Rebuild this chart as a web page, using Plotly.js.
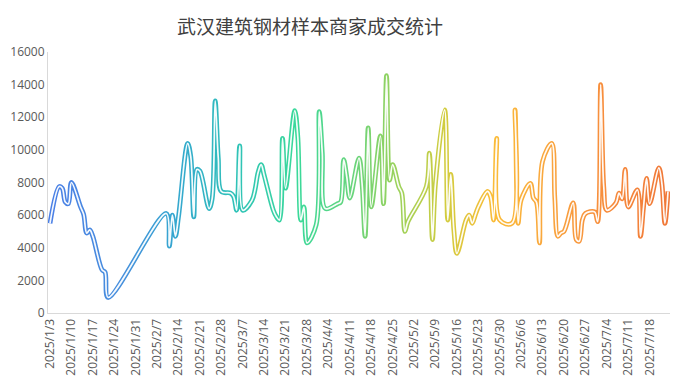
<!DOCTYPE html>
<html>
<head>
<meta charset="utf-8">
<script src="https://cdn.plot.ly/plotly-3.0.1.min.js"></script>
<style>
html,body{margin:0;padding:0;background:#fff;}
#chart{width:692px;height:387px;}
</style>
</head>
<body>
<div id="chart"></div>
<script>
// ---- data ----
var chartTitle = '武汉建筑钢材样本商家成交统计';

var dates = [
 '2025-01-03','2025-01-06','2025-01-07','2025-01-08','2025-01-09','2025-01-10',
 '2025-01-13','2025-01-14','2025-01-15','2025-01-16','2025-01-17',
 '2025-01-20','2025-01-21','2025-01-22',
 '2025-02-10','2025-02-11','2025-02-12','2025-02-13','2025-02-14',
 '2025-02-17','2025-02-18','2025-02-19','2025-02-20','2025-02-21',
 '2025-02-24','2025-02-25','2025-02-26','2025-02-27','2025-02-28',
 '2025-03-03','2025-03-04','2025-03-05','2025-03-06','2025-03-07',
 '2025-03-10','2025-03-11','2025-03-12','2025-03-13','2025-03-14',
 '2025-03-17','2025-03-18','2025-03-19','2025-03-20','2025-03-21',
 '2025-03-24','2025-03-25','2025-03-26','2025-03-27','2025-03-28',
 '2025-03-31','2025-04-01','2025-04-02','2025-04-03',
 '2025-04-07','2025-04-08','2025-04-09','2025-04-10','2025-04-11',
 '2025-04-14','2025-04-15','2025-04-16','2025-04-17','2025-04-18',
 '2025-04-21','2025-04-22','2025-04-23','2025-04-24','2025-04-25',
 '2025-04-27','2025-04-28','2025-04-29','2025-04-30',
 '2025-05-06','2025-05-07','2025-05-08','2025-05-09',
 '2025-05-12','2025-05-13','2025-05-14','2025-05-15','2025-05-16',
 '2025-05-19','2025-05-20','2025-05-21','2025-05-22','2025-05-23',
 '2025-05-26','2025-05-27','2025-05-28','2025-05-29','2025-05-30',
 '2025-06-03','2025-06-04','2025-06-05','2025-06-06',
 '2025-06-09','2025-06-10','2025-06-11','2025-06-12','2025-06-13',
 '2025-06-16','2025-06-17','2025-06-18','2025-06-19','2025-06-20',
 '2025-06-23','2025-06-24','2025-06-25','2025-06-26','2025-06-27',
 '2025-06-30','2025-07-01','2025-07-02','2025-07-03','2025-07-04',
 '2025-07-07','2025-07-08','2025-07-09','2025-07-10','2025-07-11',
 '2025-07-14','2025-07-15','2025-07-16','2025-07-17','2025-07-18',
 '2025-07-21','2025-07-22','2025-07-23','2025-07-24'
];

var volumes = [
 5500,7750,7650,6800,6700,8000,
 6500,6050,4900,5100,4700,
 2650,2500,950,
 6100,4100,6000,4700,5900,
 10400,9600,5900,8800,8700,
 6400,7000,13000,9500,7450,
 7350,7150,6300,10250,6300,
 6900,7550,8600,9100,8450,
 6300,5900,5700,10700,7650,
 12400,10800,5700,6500,4300,
 5400,12350,9800,6400,
 6700,6800,9400,8350,7050,
 9500,7950,4700,11350,6500,
 10850,6700,14550,8150,9100,
 7750,7350,5000,5600,
 7750,9800,4500,7950,
 12450,5700,8500,5100,3650,
 5700,6000,5500,6000,6500,
 7450,7150,5700,10700,5700,
 5500,12450,5500,6950,
 7950,7050,6800,4300,9300,
 10400,7050,4700,4900,5000,
 6750,4500,4400,5700,6100,
 6200,5600,14000,7750,6300,
 6750,7350,7000,8800,6500,
 7550,4700,6500,8250,6700,
 8900,7950,5500,7450
];

var tickDates = [
 '2025-01-03','2025-01-10','2025-01-17','2025-01-24','2025-01-31',
 '2025-02-07','2025-02-14','2025-02-21','2025-02-28','2025-03-07',
 '2025-03-14','2025-03-21','2025-03-28','2025-04-04','2025-04-11',
 '2025-04-18','2025-04-25','2025-05-02','2025-05-09','2025-05-16',
 '2025-05-23','2025-05-30','2025-06-06','2025-06-13','2025-06-20',
 '2025-06-27','2025-07-04','2025-07-11','2025-07-18'
];
var tickLabels = tickDates.map(function(d){
  var p = d.split('-');
  return p[0] + '/' + parseInt(p[1],10) + '/' + parseInt(p[2],10);
});

var gradientStops = [
 [0.00,'#4a7fe6'],[0.12,'#4690dc'],[0.20,'#35a6d0'],[0.30,'#2fc2b8'],
 [0.40,'#3ad99a'],[0.50,'#6ed478'],[0.56,'#9ad25c'],[0.64,'#d2cc3e'],
 [0.72,'#fbbb38'],[0.82,'#f9a23e'],[0.90,'#f78c3c'],[1.00,'#f07838']
];

// ---- chart ----
var tickFont = {family:'"Open Sans", "Noto Sans CJK SC", sans-serif', size:12, color:'#595959'};

var outer = {
  x: dates, y: volumes, type:'scatter', mode:'lines',
  line:{color:'#35b0c8', width:4.8, shape:'spline', smoothing:1},
  hoverinfo:'skip', showlegend:false
};
var inner = {
  x: dates, y: volumes, type:'scatter', mode:'lines',
  line:{color:'rgba(255,255,255,0.95)', width:1.7, shape:'spline', smoothing:1},
  hoverinfo:'skip', showlegend:false
};

var layout = {
  width:692, height:387,
  margin:{l:48, r:22, t:52, b:74, pad:0},
  paper_bgcolor:'#ffffff', plot_bgcolor:'#ffffff',
  title:{
    text: chartTitle,
    font:{family:'"Noto Sans CJK SC", sans-serif', size:19, color:'#404040'},
    x:0.448, xanchor:'center', xref:'container',
    y:0.93, yanchor:'middle', yref:'container'
  },
  xaxis:{
    type:'date',
    range:['2025-01-02 08:18','2025-07-24 15:42'],
    tickmode:'array', tickvals:tickDates, ticktext:tickLabels,
    tickangle:-90, tickfont:tickFont,
    showgrid:false, zeroline:false,
    showline:true, linecolor:'#d9d9d9', linewidth:1,
    ticks:'', automargin:false
  },
  yaxis:{
    range:[0,16000], dtick:2000, tick0:0,
    tickfont:tickFont, tickformat:'d',
    showgrid:false, zeroline:false,
    showline:true, linecolor:'#d9d9d9', linewidth:1,
    ticks:'', automargin:false
  },
  hovermode:false
};

Plotly.newPlot('chart', [outer, inner], layout, {displayModeBar:false, staticPlot:true}).then(function(gd){
  var svg = gd.querySelector('svg.main-svg');
  var ns = 'http://www.w3.org/2000/svg';
  var defs = svg.querySelector('defs');
  if(!defs){ defs = document.createElementNS(ns,'defs'); svg.insertBefore(defs, svg.firstChild); }
  var lg = document.createElementNS(ns,'linearGradient');
  lg.setAttribute('id','lineGrad');
  lg.setAttribute('x1','0'); lg.setAttribute('y1','0');
  lg.setAttribute('x2','1'); lg.setAttribute('y2','0');
  gradientStops.forEach(function(s){
    var st = document.createElementNS(ns,'stop');
    st.setAttribute('offset', s[0]);
    st.setAttribute('stop-color', s[1]);
    lg.appendChild(st);
  });
  defs.appendChild(lg);
  var traces = gd.querySelectorAll('.scatterlayer .trace');
  if(traces.length){
    var paths = traces[0].querySelectorAll('path.js-line');
    paths.forEach(function(p){ p.style.stroke = 'url(#lineGrad)'; });
  }
});
</script>
</body>
</html>
